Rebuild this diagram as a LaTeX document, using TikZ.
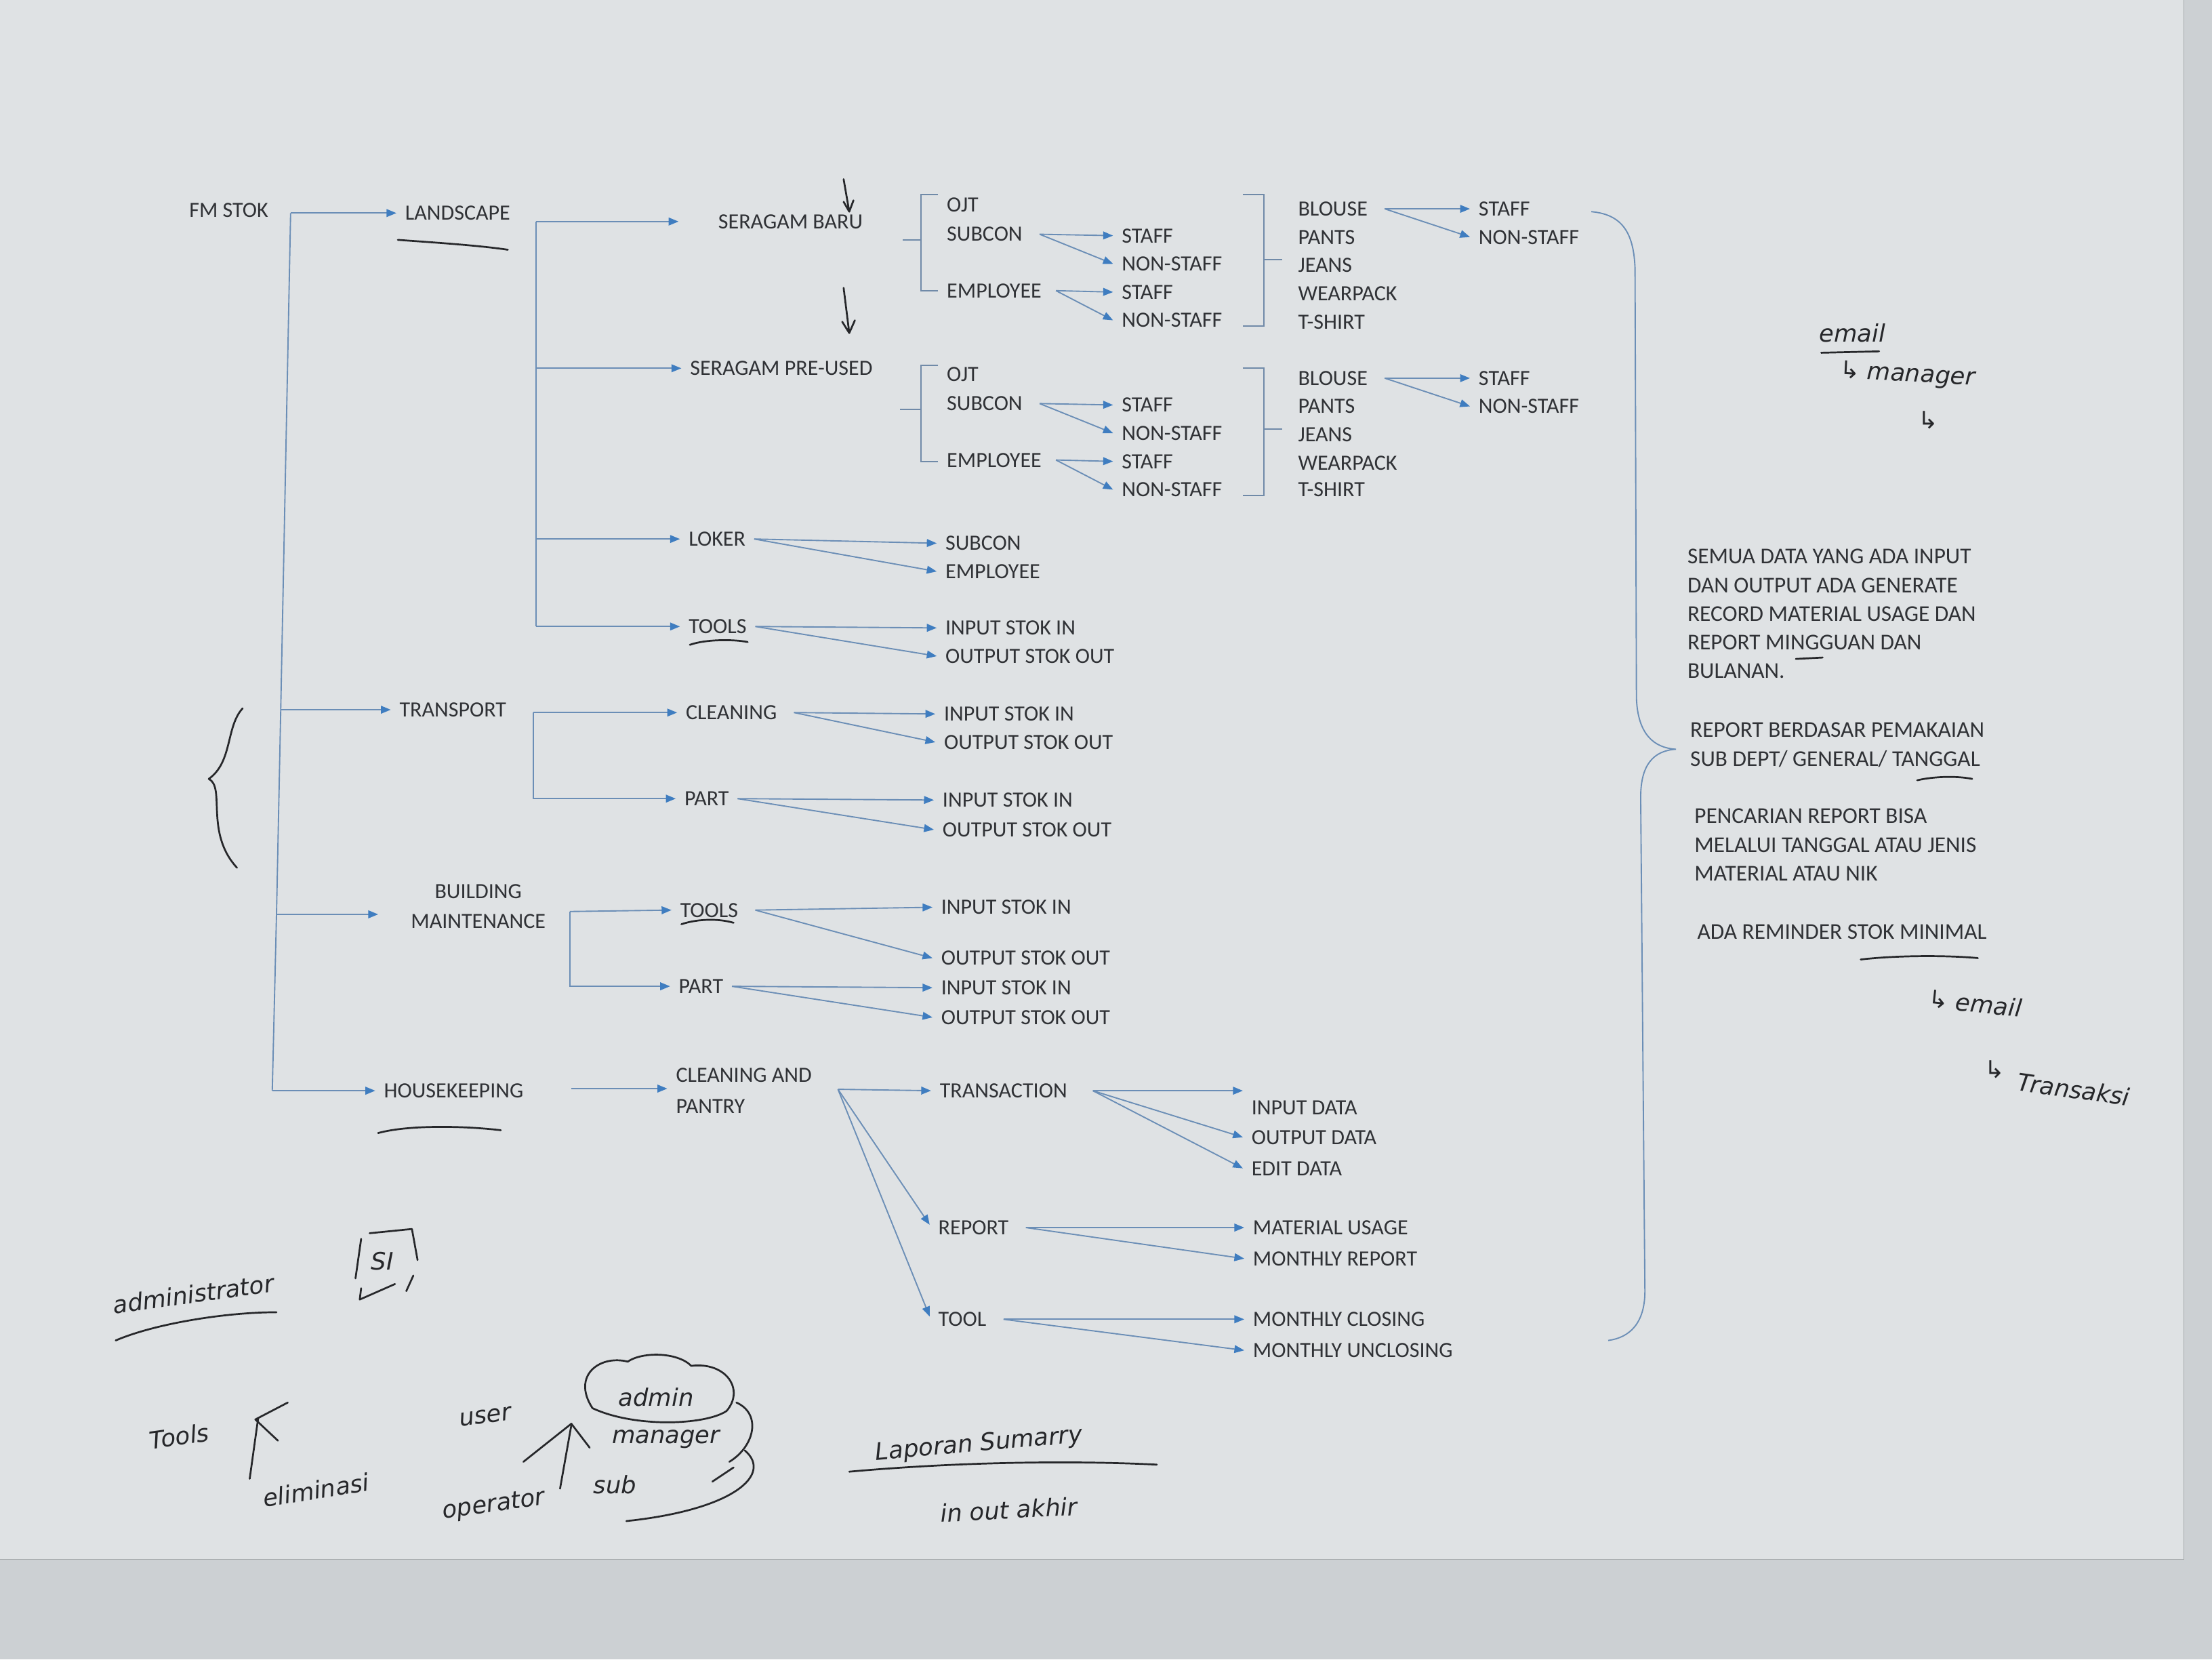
\documentclass[tikz,border=0pt]{standalone}
\usepackage{fontspec}
\setmainfont{Carlito}
\newfontfamily\handfont{DejaVu Sans}
\usetikzlibrary{arrows.meta,calc}
\definecolor{paper}{HTML}{DFE2E4}
\definecolor{desk}{HTML}{CCD0D3}
\definecolor{ink}{HTML}{303236}
\definecolor{wire}{HTML}{6B8EB6}
\definecolor{tipc}{HTML}{3F7DC0}
\definecolor{pen}{HTML}{26272A}
\begin{document}
\begin{tikzpicture}[x=1pt,y=-1pt,
  lbl/.style={font=\fontsize{15.4}{18}\selectfont,text=ink,inner xsep=6pt,inner ysep=0pt,text height=10pt,text depth=0pt,anchor=west,xshift=-6pt},
  lbltwo/.style={font=\fontsize{15.4}{21}\selectfont,text=ink,inner xsep=6pt,inner ysep=0pt,align=center},
  lblcap/.style={font=\fontsize{15.4}{22}\selectfont,text=ink,inner xsep=6pt,inner ysep=0pt,align=left,anchor=west,xshift=-6pt},
  para/.style={font=\fontsize{16}{20.3}\selectfont,text=ink,inner sep=0pt,align=left,anchor=north west},
  conn/.style={draw=wire,line width=0.9pt,-{Triangle[length=7pt,width=5.5pt,color=tipc]}},
  bus/.style={draw=wire,line width=0.9pt},
  brk/.style={draw=wire!75!gray,line width=0.8pt},
  hw/.style={font=\handfont\itshape\fontsize{17}{20}\selectfont,text=pen,inner sep=1pt},
  pens/.style={draw=pen,line width=1.3pt,line cap=round,line join=round}]
\fill[desk] (0,0) rectangle (1568,1176);
\fill[paper] (0,0) rectangle (1548,1105);
\useasboundingbox (0,0) rectangle (1568,1176);

% ---------------- level 1 ----------------
\node[lbl] (fm) at (134,149) {FM STOK};
\node[lbl] (land) at (287,151) {LANDSCAPE};
\node[lbl] (trans) at (283,503) {TRANSPORT};
\node[lbltwo] (bm) at (339,642.5) {BUILDING\\MAINTENANCE};
\node[lbl] (hk) at (272,773) {HOUSEKEEPING};

\coordinate (fmtop) at (206,151);
\coordinate (fmT) at (199,503);
\coordinate (fmB) at (196,648);
\coordinate (fmH) at (193,773);
\draw[bus] (fmtop) -- (fmT) -- (fmB) -- (fmH);
\draw[conn] (fmtop) -- (land.west);
\draw[conn] (fmT) -- (trans.west);
\draw[conn] (fmB) -- ([xshift=-17pt,yshift=-5.5pt]bm.west);
\draw[conn] (fmH) -- (hk.west);

% ---------------- LANDSCAPE ----------------
\node[lbl] (sb) at (509,157) {SERAGAM BARU};
\node[lbl] (sp) at (489,261) {SERAGAM PRE-USED};
\node[lbl] (lok) at (488,382) {LOKER};
\node[lbl] (ltools) at (488,444) {TOOLS};
\coordinate (lb0) at (380,157);
\draw[bus] (lb0) -- (lb0 |- ltools.west);
\draw[conn] (lb0) -- ([xshift=-22pt]sb.west);
\draw[conn] (lb0 |- sp.west) -- (sp.west);
\draw[conn] (lb0 |- lok.west) -- (lok.west);
\draw[conn] (lb0 |- ltools.west) -- (ltools.west);

% group 1 (seragam baru)
\node[lbl] (aojt) at (671,145) {OJT};
\node[lbl] (asub) at (671,166) {SUBCON};
\node[lbl] (aemp) at (671,206) {EMPLOYEE};
\node[lbl] (as1) at (795,167) {STAFF};
\node[lbl] (an1) at (795,187) {NON-STAFF};
\node[lbl] (as2) at (795,207) {STAFF};
\node[lbl] (an2) at (795,227) {NON-STAFF};
\draw[conn] ([xshift=6pt]asub.east) -- (as1.west);
\draw[conn] ([xshift=6pt]asub.east) -- (an1.west);
\draw[conn] ([xshift=4pt]aemp.east) -- (as2.west);
\draw[conn] ([xshift=4pt]aemp.east) -- (an2.west);
\draw[brk] (665,138) -- (653,138) -- (653,206) -- (665,206);
\draw[brk] (653,170) -- (640,170);
\node[lbl] (abl) at (920,148) {BLOUSE};
\node[lbl] (apa) at (920,168) {PANTS};
\node[lbl] (aje) at (920,188) {JEANS};
\node[lbl] (awe) at (920,208) {WEARPACK};
\node[lbl] (ats) at (920,228) {T-SHIRT};
\draw[brk] (881,138) -- (896,138) -- (896,231) -- (881,231);
\draw[brk] (896,184) -- (909,184);
\node[lbl] (abs) at (1048,148) {STAFF};
\node[lbl] (abn) at (1048,168) {NON-STAFF};
\draw[conn] ([xshift=6pt]abl.east) -- (abs.west);
\draw[conn] ([xshift=6pt]abl.east) -- (abn.west);

% group 2 (seragam pre-used)
\node[lbl] (bojt) at (671,265) {OJT};
\node[lbl] (bsub) at (671,286) {SUBCON};
\node[lbl] (bemp) at (671,326) {EMPLOYEE};
\node[lbl] (bs1) at (795,287) {STAFF};
\node[lbl] (bn1) at (795,307) {NON-STAFF};
\node[lbl] (bs2) at (795,327) {STAFF};
\node[lbl] (bn2) at (795,347) {NON-STAFF};
\draw[conn] ([xshift=6pt]bsub.east) -- (bs1.west);
\draw[conn] ([xshift=6pt]bsub.east) -- (bn1.west);
\draw[conn] ([xshift=4pt]bemp.east) -- (bs2.west);
\draw[conn] ([xshift=4pt]bemp.east) -- (bn2.west);
\draw[brk] (665,259) -- (653,259) -- (653,327) -- (665,327);
\draw[brk] (653,290) -- (638,290);
\node[lbl] (cbl) at (920,268) {BLOUSE};
\node[lbl] (cpa) at (920,288) {PANTS};
\node[lbl] (cje) at (920,308) {JEANS};
\node[lbl] (cwe) at (920,328) {WEARPACK};
\node[lbl] (cts) at (920,347) {T-SHIRT};
\draw[brk] (881,261) -- (896,261) -- (896,351) -- (881,351);
\draw[brk] (896,304) -- (909,304);
\node[lbl] (cbs) at (1048,268) {STAFF};
\node[lbl] (cbn) at (1048,288) {NON-STAFF};
\draw[conn] ([xshift=6pt]cbl.east) -- (cbs.west);
\draw[conn] ([xshift=6pt]cbl.east) -- (cbn.west);

% loker, tools
\node[lbl] (lsub) at (670,385) {SUBCON};
\node[lbl] (lemp) at (670,405) {EMPLOYEE};
\draw[conn] (lok.east) -- (lsub.west);
\draw[conn] (lok.east) -- (lemp.west);
\node[lbl] (tin) at (670,445) {INPUT STOK IN};
\node[lbl] (tout) at (670,465) {OUTPUT STOK OUT};
\draw[conn] (ltools.east) -- (tin.west);
\draw[conn] (ltools.east) -- (tout.west);

% ---------------- TRANSPORT ----------------
\node[lbl] (cl) at (486,505) {CLEANING};
\node[lbl] (tpart) at (485,566) {PART};
\coordinate (tb0) at (378,505);
\draw[conn] (tb0) -- (cl.west);
\draw[conn] (tb0) |- (tpart.west);
\node[lbl] (clin) at (669,506) {INPUT STOK IN};
\node[lbl] (clout) at (669,526) {OUTPUT STOK OUT};
\draw[conn] ([xshift=6pt]cl.east) -- (clin.west);
\draw[conn] ([xshift=6pt]cl.east) -- (clout.west);
\node[lbl] (tpin) at (668,567) {INPUT STOK IN};
\node[lbl] (tpout) at (668,588) {OUTPUT STOK OUT};
\draw[conn] (tpart.east) -- (tpin.west);
\draw[conn] (tpart.east) -- (tpout.west);

% ---------------- BUILDING MAINTENANCE ----------------
\node[lbl] (bmt) at (482,645) {TOOLS};
\node[lbl] (bmp) at (481,699) {PART};
\coordinate (bb0) at (404,646);
\draw[conn] (bb0) -- (bmt.west);
\draw[conn] (bb0) |- (bmp.west);
\node[lbl] (bmtin) at (667,643) {INPUT STOK IN};
\node[lbl] (bmtout) at (667,679) {OUTPUT STOK OUT};
\draw[conn] ([xshift=6pt]bmt.east) -- (bmtin.west);
\draw[conn] ([xshift=6pt]bmt.east) -- (bmtout.west);
\node[lbl] (bmpin) at (667,700) {INPUT STOK IN};
\node[lbl] (bmpout) at (667,721) {OUTPUT STOK OUT};
\draw[conn] (bmp.east) -- (bmpin.west);
\draw[conn] (bmp.east) -- (bmpout.west);

% ---------------- HOUSEKEEPING ----------------
\node[lblcap] (cap) at (479,773) {CLEANING AND\\PANTRY};
\draw[conn] ([xshift=28pt,yshift=1.5pt]hk.east) -- ([yshift=1.5pt]cap.west);
\coordinate (capo) at (594,772);
\node[lbl] (tr) at (666,773) {TRANSACTION};
\node[lbl] (rep) at (665,870) {REPORT};
\node[lbl] (tool) at (665,935) {TOOL};
\draw[conn] (capo) -- (tr.west);
\draw[conn] (capo) -- ([yshift=2pt]rep.west);
\draw[conn] (capo) -- ([yshift=2pt]tool.west);
\coordinate (tro) at ([xshift=12pt]tr.east);
\node[lbl] (idata) at (887,785) {INPUT DATA};
\node[lbl] (odata) at (887,806) {OUTPUT DATA};
\node[lbl] (edata) at (887,828) {EDIT DATA};
\draw[conn] (tro) -- ([yshift=12pt]idata.west);
\draw[conn] (tro) -- (odata.west);
\draw[conn] (tro) -- (edata.west);
\node[lbl] (mu) at (888,870) {MATERIAL USAGE};
\node[lbl] (mr) at (888,892) {MONTHLY REPORT};
\draw[conn] ([xshift=6pt]rep.east) -- (mu.west);
\draw[conn] ([xshift=6pt]rep.east) -- (mr.west);
\node[lbl] (mc) at (888,935) {MONTHLY CLOSING};
\node[lbl] (mun) at (888,957) {MONTHLY UNCLOSING};
\draw[conn] ([xshift=6pt]tool.east) -- (mc.west);
\draw[conn] ([xshift=6pt]tool.east) -- (mun.west);

% ---------------- big brace + notes ----------------
\draw[wire,line width=0.9pt] (1128,150) .. controls (1150,152) and (1158,165) .. (1159,190)
  -- (1160,495) .. controls (1161,520) and (1172,530) .. (1188,531)
  .. controls (1172,532) and (1163,542) .. (1163,565)
  -- (1166,915) .. controls (1166,938) and (1155,948) .. (1140,950);
\node[para] (n1) at (1196,389) {SEMUA DATA YANG ADA INPUT\\DAN OUTPUT ADA GENERATE\\RECORD MATERIAL USAGE DAN\\REPORT MINGGUAN DAN\\BULANAN.};
\node[para] (n2) at (1198,512) {REPORT BERDASAR PEMAKAIAN\\SUB DEPT/ GENERAL/ TANGGAL};
\node[para] (n3) at (1201,573) {PENCARIAN REPORT BISA\\MELALUI TANGGAL ATAU JENIS\\MATERIAL ATAU NIK};
\node[para] (n4) at (1203,655) {ADA REMINDER STOK MINIMAL};

% ---------------- handwritten marks ----------------
\draw[pens] (282,170) .. controls (310,172) and (340,174) .. (360,177);
\draw[pens] (489,457) .. controls (500,453) and (520,453) .. (530,455);
\draw[pens] (483,655) .. controls (495,651) and (510,651) .. (520,654);
\draw[pens] (268,803) .. controls (290,797) and (330,798) .. (355,801);
\draw[pens] (1273,467) -- (1292,466);
\draw[pens] (1359,553) .. controls (1372,550) and (1388,550) .. (1398,552);
\draw[pens] (1319,680) .. controls (1345,677) and (1380,677) .. (1402,679);
\draw[pens] (598,127) -- (602,150) (598,143) -- (602,150) -- (605,142);
\draw[pens] (598,204) -- (602,236) (597,228) -- (602,236) -- (606,227);
\draw[pens] (172,502) .. controls (160,515) and (165,540) .. (148,552)
  .. controls (160,558) and (145,590) .. (168,615);

\node[hw] (hemail) at (1313,236) {email};
\draw[pens] (1291,250) -- (1332,249);
\node[hw,rotate=-3] (hman) at (1352,266) {↳ manager};
\node[hw] (harr) at (1367,298) {↳};
\node[hw,rotate=-6] (hem2) at (1400,711) {↳ email};
\node[hw] (htra) at (1414,758) {↳};
\node[hw,rotate=-8] (htr) at (1470,772) {Transaksi};

\node[hw,rotate=8] (hadm) at (137,917) {administrator};
\draw[pens] (82,950) .. controls (110,938) and (160,930) .. (196,930);
\node[hw] (hsi) at (271,894) {SI};
\draw[pens] (256,878) -- (252,906) (256,913) -- (255,921) -- (280,910);
\draw[pens] (262,874) -- (292,871) -- (296,893) (293,904) -- (288,915);

\node[hw,rotate=8] (htools) at (127,1018) {Tools};
\draw[pens] (177,1048) -- (183,1005);
\draw[pens] (204,994) -- (181,1006) -- (197,1021);
\node[hw,rotate=9] (helim) at (224,1056) {eliminasi};
\node[hw,rotate=8] (huser) at (344,1004) {user};
\node[hw,rotate=8] (hop) at (350,1067) {operator};
\draw[pens] (397,1055) -- (405,1010);
\draw[pens] (371,1036) -- (405,1009) -- (418,1026);
\draw[pens] (420,998) .. controls (405,975) and (425,960) .. (445,965)
  .. controls (455,958) and (480,958) .. (490,968)
  .. controls (515,965) and (528,985) .. (515,1000)
  .. controls (500,1010) and (450,1012) .. (420,998);
\draw[pens] (522,994) .. controls (540,1002) and (535,1025) .. (517,1036);
\draw[pens] (528,1028) .. controls (548,1045) and (520,1070) .. (444,1078);
\draw[pens] (505,1050) -- (520,1040);
\node[hw] (hadmin) at (465,990) {admin};
\node[hw] (hmgr) at (472,1020) {manager};
\node[hw] (hsub) at (436,1052) {sub};
\node[hw,rotate=5] (hlap) at (694,1024) {Laporan Sumarry};
\draw[pens] (602,1043) .. controls (680,1036) and (760,1035) .. (820,1038);
\node[hw,rotate=3] (hio) at (715,1070) {in out akhir};

% paper edge
\draw[desk!80!black,line width=0.6pt] (0,1105) -- (1548,1105) -- (1548,0);
\end{tikzpicture}
\end{document}
